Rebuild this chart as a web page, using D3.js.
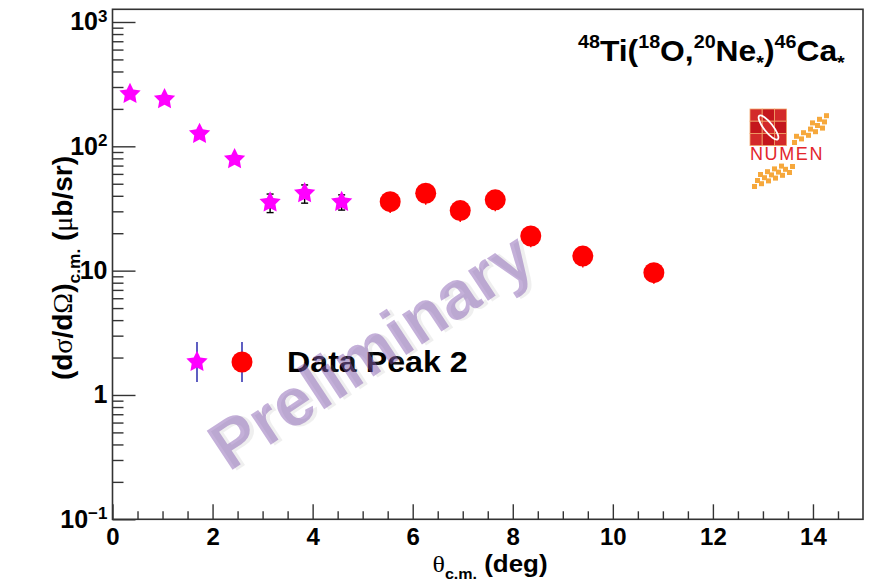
<!DOCTYPE html>
<html><head><meta charset="utf-8">
<script src="https://cdn.jsdelivr.net/npm/d3@7"></script>
<style>
body{margin:0;background:#fff}
svg{display:block;font-family:"Liberation Sans",Arial,Helvetica,sans-serif;font-weight:bold}
.greek{font-family:"Liberation Serif","DejaVu Serif",serif;font-weight:normal}
</style></head><body><svg id="c" width="882" height="583"></svg>
<script>
// angles (deg) and cross sections (ub/sr)
const starTheta = [0.35, 1.04, 1.74, 2.44, 3.15, 3.84, 4.58];
const starXs    = [264, 239, 126, 78.8, 35.3, 41.9, 35.7];
const starErr   = [14, 12, 7, 4.5, 6.0, 7.0, 5.0];
const circTheta = [5.55, 6.26, 6.95, 7.65, 8.36, 9.40, 10.82];
const circXs    = [35.9, 41.9, 30.4, 37.1, 19.0, 13.1, 9.64];
const circErr   = [6.8, 8.0, 5.8, 7.1, 3.6, 2.5, 1.8];
const xMajor = [0, 2, 4, 6, 8, 10, 12, 14];
const yMajor = [0.1, 1, 10, 100, 1000];
const legendLabel = "Data Peak 2";

const svg = d3.select("#c");
const L = 112.5, R = 863, T = 9.3, B = 519.3;
const x = d3.scaleLinear().domain([0, 15]).range([L, R]);
const y = d3.scaleLog().domain([0.1, 1265]).range([B, T]);

// rich text helper: parts = [[str, 'sup'|'sub'|'g'|null]]
function rich(sel, parts, size) {
    let cur = 0;
    parts.forEach(([s, k]) => {
        const off = k === 'sup' ? -0.42 * size : k === 'sub' ? 0.28 * size : 0;
        const t = sel.append("tspan").attr("dy", off - cur).attr("font-size", (k === 'sup' || k === 'sub') ? size * 0.62 : size).text(s);
        if (k === 'g') t.attr("class", "greek");
        cur = off;
    });
}

// axes
const xMinor = d3.range(0.5, 15, 0.5).filter(v => v % 2 !== 0);
svg.append("g").attr("transform", `translate(0,${B})`).call(d3.axisBottom(x).tickValues(xMinor).tickSize(-8).tickFormat(""));
const gx = svg.append("g").attr("transform", `translate(0,${B})`).call(d3.axisBottom(x).tickValues(xMajor).tickSize(-15).tickPadding(9).tickFormat(d3.format("d")));
gx.selectAll("text").attr("font-size", 24).attr("fill", "#000").attr("font-family", null);
const yMinor = [];
[0.1, 1, 10, 100].forEach(d => { for (let k = 2; k <= 9; k++) yMinor.push(d * k) });
svg.append("g").attr("transform", `translate(${L},0)`).call(d3.axisLeft(y).tickValues(yMinor).tickSize(-11).tickFormat(""));
const gy = svg.append("g").attr("transform", `translate(${L},0)`).call(d3.axisLeft(y).tickValues(yMajor).tickSize(-23).tickPadding(5));
gy.selectAll(".tick text").attr("font-size", 25).attr("fill", "#000").attr("font-family", null).each(function (d) {
    const t = d3.select(this).text(""), e = Math.round(Math.log10(d));
    if (e === 0 || e === 1) t.text(e ? "10" : "1");
    else { t.append("tspan").text("10"); t.append("tspan").attr("dy", "-0.5em").attr("font-size", 17).text(e < 0 ? "\u22121" : e) }
});
svg.selectAll(".domain").remove();
svg.selectAll(".tick line").attr("stroke", "#333").attr("stroke-width", 1.4);
svg.append("rect").attr("x", L).attr("y", T).attr("width", R - L).attr("height", B - T).attr("fill", "none").attr("stroke", "#333").attr("stroke-width", 1.6);

// axis titles
rich(svg.append("text").attr("transform", "translate(490,572) scale(1.08,1)").attr("text-anchor", "middle").attr("font-size", 24),
    [["\u03b8", 'g'], ["c.m.", 'sub'], [" (deg)", null]], 24);
rich(svg.append("text").attr("transform", "translate(72,268) rotate(-90)").attr("text-anchor", "middle").attr("font-size", 28),
    [["(d", null], ["\u03c3", 'g'], ["/d", null], ["\u03a9", 'g'], [")", null], ["c.m.", 'sub'], [" (", null], ["\u03bc", 'g'], ["b/sr)", null]], 28);

// reaction label
rich(svg.append("text").attr("transform", "translate(578,61) scale(1.06,1)").attr("font-size", 30),
    [["48", 'sup'], ["Ti(", null], ["18", 'sup'], ["O,", null], ["20", 'sup'], ["Ne", null], ["*", 'sub'], [")", null], ["46", 'sup'], ["Ca", null], ["*", 'sub']], 30);

// NUMEN logo
const logo = svg.append("g").attr("transform", "translate(750,109)");
const cell = 12.2;
d3.range(9).forEach(i => logo.append("rect").attr("x", (i % 3) * cell).attr("y", Math.floor(i / 3) * cell).attr("width", cell).attr("height", cell)
    .attr("fill", i % 2 ? "#c4161c" : "#d32a2a").attr("stroke", "#f2a66a").attr("stroke-width", 0.8));
logo.append("ellipse").attr("cx", 18.5).attr("cy", 18.5).attr("rx", 15).attr("ry", 4.5).attr("transform", "rotate(52,18.5,18.5)")
    .attr("fill", "none").attr("stroke", "#fff").attr("stroke-width", 1.8);
logo.append("text").attr("x", 0).attr("y", 51).attr("font-size", 18).attr("font-weight", "normal").attr("letter-spacing", 1.6).attr("fill", "#e3262d").text("NUMEN");
const sq = [];
for (let i = 0; i < 5; i++) for (let j = 0; j < 3; j++) if (!(j === 2 && i < 2)) sq.push([42 + i * 7 + j * 2, 31 - i * 3.6 - j * 6.2]);
for (let i = 0; i < 6; i++) for (let j = 0; j < 3; j++) if (!(j === 2 && i > 3)) sq.push([2 + i * 7 + j * 3, 75 - i * 2.8 - j * 6]);
logo.selectAll("rect.sq").data(sq).join("rect").attr("class", "sq").attr("x", d => d[0]).attr("y", d => d[1]).attr("width", 5).attr("height", 5).attr("fill", "#f6a83c");

// data
const stars = starTheta.map((t, i) => ({ t, v: starXs[i], e: starErr[i] }));
const circs = circTheta.map((t, i) => ({ t, v: circXs[i], e: circErr[i] }));
const fatStar = { draw(ctx, size) {
    const Ro = Math.sqrt(size), Ri = Ro * 0.5;
    for (let i = 0; i < 10; i++) {
        const a = i * Math.PI / 5 - Math.PI / 2, r = i % 2 ? Ri : Ro;
        i ? ctx.lineTo(r * Math.cos(a), r * Math.sin(a)) : ctx.moveTo(r * Math.cos(a), r * Math.sin(a));
    }
    ctx.closePath();
} };
const star = d3.symbol().type(fatStar).size(125);
const plot = svg.append("g");
function errBars(data, col, cap) {
    const g = plot.append("g").attr("stroke", col).attr("stroke-width", 1.4);
    g.selectAll("line.v").data(data).join("line").attr("x1", d => x(d.t)).attr("x2", d => x(d.t)).attr("y1", d => y(d.v + d.e)).attr("y2", d => y(d.v - d.e));
    if (cap) [1, -1].forEach(s => g.selectAll("line.c" + s).data(data).join("line").attr("x1", d => x(d.t) - 3.5).attr("x2", d => x(d.t) + 3.5).attr("y1", d => y(d.v + s * d.e)).attr("y2", d => y(d.v + s * d.e)));
}
errBars(stars, "#000", true);
errBars(circs, "#f00", false);
plot.selectAll("path.star").data(stars).join("path").attr("class", "star").attr("d", star).attr("fill", "#f0f").attr("transform", d => `translate(${x(d.t)},${y(d.v)})`);
plot.selectAll("circle").data(circs).join("circle").attr("r", 10.5).attr("fill", "#f00").attr("cx", d => x(d.t)).attr("cy", d => y(d.v));

// legend
const lg = svg.append("g").attr("transform", "translate(197,362)");
[0, 45].forEach(dx => lg.append("line").attr("x1", dx).attr("x2", dx).attr("y1", -20).attr("y2", 20).attr("stroke", "#1a1aa8").attr("stroke-width", 1.4));
lg.append("path").attr("d", star).attr("fill", "#f0f");
lg.append("circle").attr("cx", 45).attr("r", 10.5).attr("fill", "#f00");
lg.append("text").attr("transform", "translate(90,10) scale(1.11,1)").attr("font-size", 29).attr("fill", "#000").text(legendLabel);

// watermark
const wm = svg.append("g").attr("transform", "translate(370,350) rotate(-33.5)");
wm.append("text").attr("x", 3).attr("y", 3).attr("text-anchor", "middle").attr("dominant-baseline", "central").attr("font-size", 68).attr("fill", "#999").attr("opacity", 0.15).text("Preliminary");
wm.append("text").attr("text-anchor", "middle").attr("dominant-baseline", "central").attr("font-size", 68).attr("fill", "rgb(128,85,174)").attr("opacity", 0.46).text("Preliminary");
</script></body></html>
